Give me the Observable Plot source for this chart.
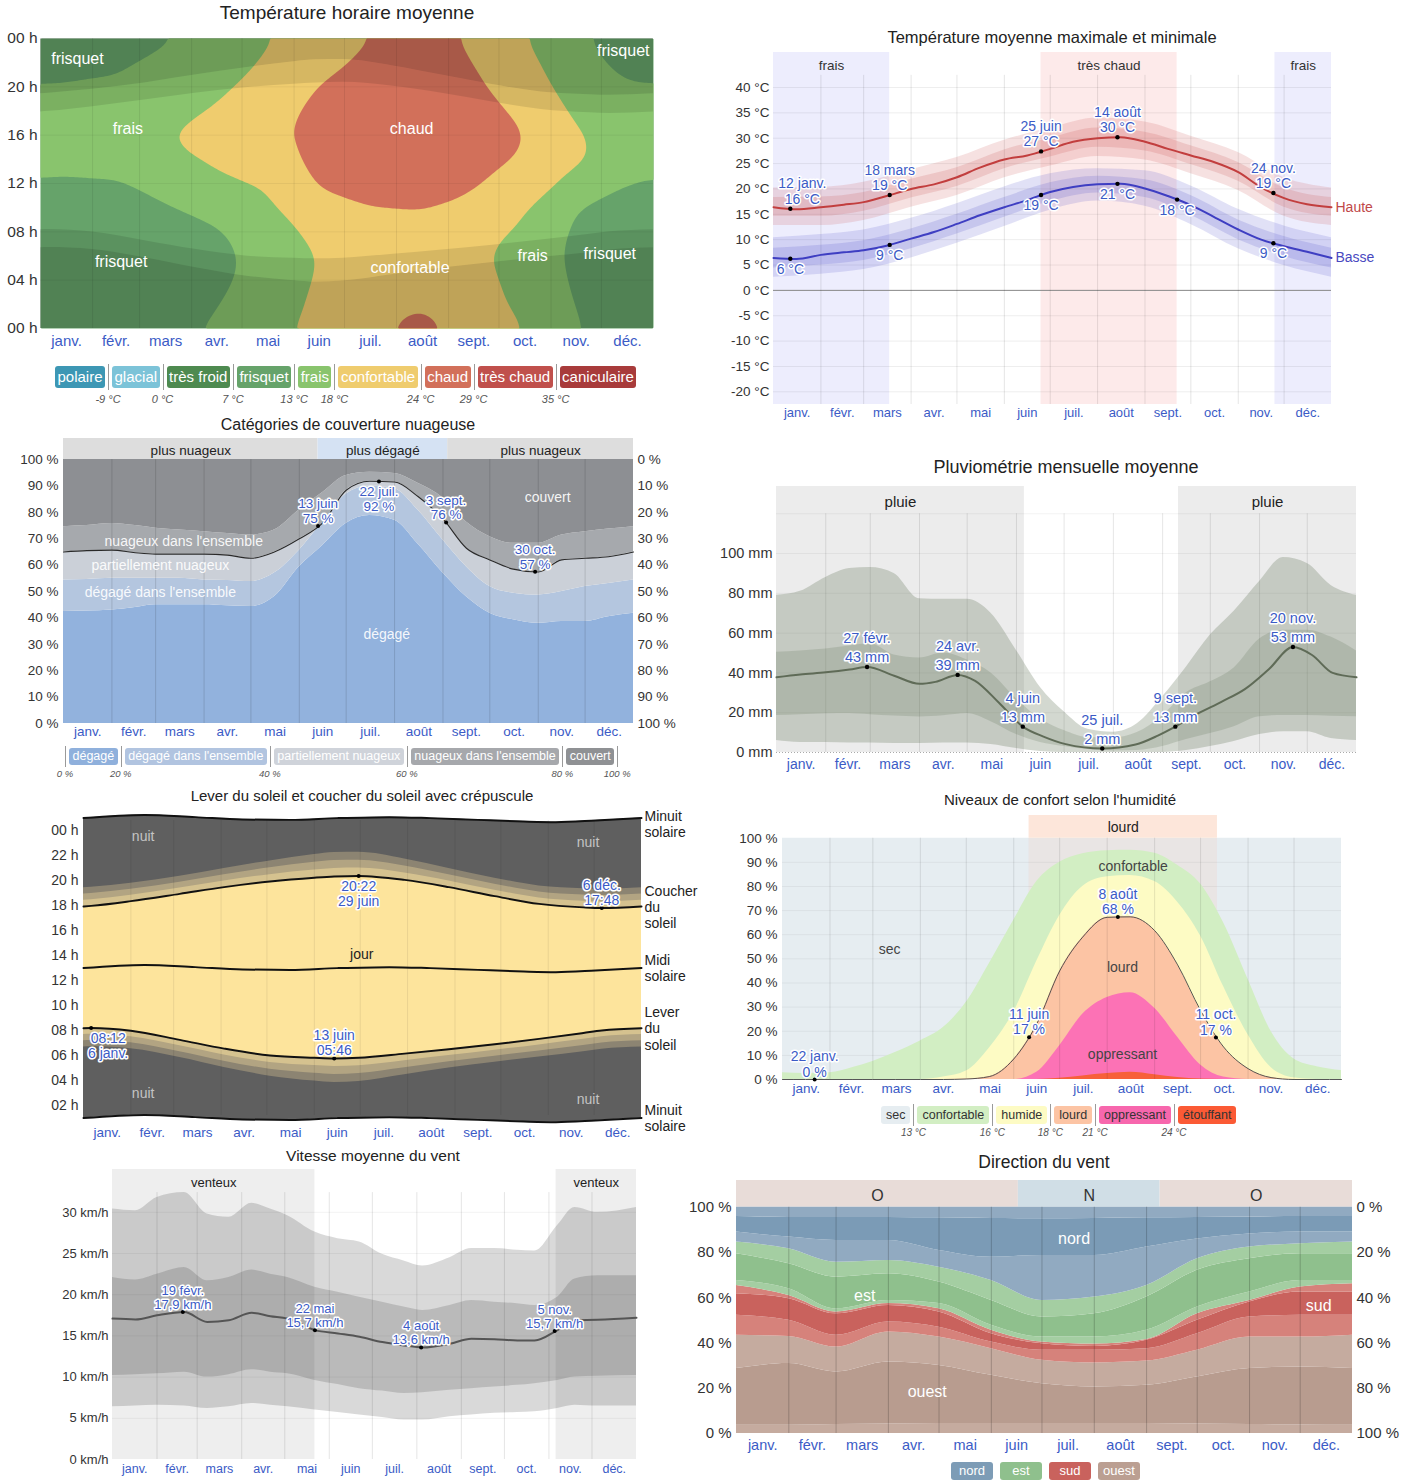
<!DOCTYPE html>
<html lang="fr">
<head>
<meta charset="utf-8">
<script src="https://cdn.jsdelivr.net/npm/d3@7"></script>
<script src="https://cdn.jsdelivr.net/npm/@observablehq/plot@0.6"></script>
<style>
html,body{margin:0;padding:0;background:#fff;}
#page{position:relative;width:1414px;height:1481px;overflow:hidden;background:#fff;}
.panel{position:absolute;}
.panel svg{display:block;overflow:visible;max-width:none;}
.title{position:absolute;width:700px;text-align:center;color:#222;white-space:nowrap;transform:translateY(-50%);line-height:1.1;}
.legend{position:absolute;display:flex;align-items:flex-start;white-space:nowrap;}
.legend .box{border-radius:3px;text-align:center;box-sizing:border-box;flex:none;}
.legend .sep{position:relative;width:1px;flex:none;background:#9a9a9a;}
.legend .sep span{position:absolute;left:0;transform:translateX(-50%);font-style:italic;color:#555;white-space:nowrap;}
</style>
</head>
<body>
<div id="page"></div>
<script>
// ====================== DATA ======================
const monthNames = ["janv.","févr.","mars","avr.","mai","juin","juil.","août","sept.","oct.","nov.","déc."];
const monthStarts = [0,31,59,90,120,151,181,212,243,273,304,334,365];
const midMonths = [15.5,45,74.5,105,135.5,166,196.5,227.5,258,288.5,319,349.5];
const dayGrid = [0,15,31,46,59,74,90,105,120,135,151,166,181,196,212,227,243,258,273,288,304,319,334,349,365];

// --- Température horaire moyenne ---
const tempCategories = ["polaire","glacial","très froid","frisquet","frais","confortable","chaud","très chaud","caniculaire"];
const tempColors = ["#3d97b4","#7cc3d8","#4e8a50","#66a36a","#89c46d","#efcc6e","#d2705a","#c0504c","#a83b3b"];
const tempCuts = [-9,0,7,13,18,24,29,35];
const tempCutLabels = ["-9 °C","0 °C","7 °C","13 °C","18 °C","24 °C","29 °C","35 °C"];
const hourGrid = [0,2,4,6,8,10,12,14,16,18,20,22,24];
const tempDays = [0,15,46,74,105,135,166,196,227,258,288,319,349,365];
const hourlyTemp = [
  [10.8, 9.8, 9.0, 8.5, 9.2,11.2,12.4,14.8,15.6,14.6,13.1,12.0,10.7],
  [10.5, 9.5, 8.5, 8.0, 9.0,11.0,12.3,14.5,15.5,14.5,13.2,12.0,10.5],
  [10.5, 9.5, 9.0, 8.5, 9.5,11.5,12.5,15.0,16.0,15.0,13.5,12.5,11.0],
  [12.2,11.0,10.5,10.0,11.5,12.6,14.5,17.0,17.8,16.5,15.0,13.8,12.6],
  [13.5,12.8,12.0,12.0,12.5,14.5,17.0,18.8,19.5,18.5,17.0,15.5,14.5],
  [16.5,15.5,15.0,14.5,15.5,17.0,18.5,20.5,22.0,21.5,20.0,18.6,17.5],
  [19.5,19.0,18.5,18.3,19.5,22.0,24.5,26.0,26.5,25.5,24.2,22.5,21.0],
  [22.5,21.5,20.5,20.0,21.5,23.8,26.5,28.0,28.5,27.5,26.0,25.0,24.0],
  [25.8,23.5,21.0,20.5,21.5,24.3,27.0,28.5,28.8,28.0,26.8,26.2,25.8],
  [21.0,20.0,19.5,19.0,20.0,22.5,24.5,26.0,26.5,25.8,25.0,24.0,23.2],
  [18.0,17.0,16.5,16.0,17.0,18.5,21.5,23.5,24.2,23.0,21.0,19.5,18.2],
  [13.3,12.8,12.3,12.0,12.3,13.0,16.0,18.8,18.5,17.0,15.5,14.5,13.8],
  [11.0,10.0, 9.5, 9.0, 9.5,11.5,13.0,15.5,16.0,15.0,13.3,12.0,11.0],
  [10.8, 9.8, 9.0, 8.5, 9.2,11.2,12.4,14.8,15.6,14.6,13.1,12.0,10.7]
];
const hourlyLabels = [
  {day:22, hour:22.3, text:"frisquet"}, {day:347, hour:23.0, text:"frisquet"},
  {day:52, hour:16.5, text:"frais"}, {day:221, hour:16.5, text:"chaud"},
  {day:48, hour:5.5, text:"frisquet"}, {day:220, hour:5.0, text:"confortable"},
  {day:293, hour:6.0, text:"frais"}, {day:339, hour:6.2, text:"frisquet"}
];

// --- Température moyenne maximale et minimale ---
const highTemp = [16.4,16.0,16.4,16.9,17.4,18.6,20.0,20.9,22.3,24.2,25.8,26.6,27.9,29.3,30.0,30.2,29.3,27.9,26.6,25.3,23.3,20.3,18.2,17.0,16.4];
const lowTemp  = [6.4,6.2,7.0,7.5,7.9,8.8,10.2,11.5,13.1,14.8,16.4,17.8,19.4,20.4,20.9,21.0,20.1,18.6,16.8,14.5,12.0,10.0,8.7,7.6,6.4];
const highP90 = [20.2,20.3,21.3,23.8,26.2,29.6,32.0,34.0,33.2,30.4,27.2,22.2,20.2];
const highP75 = [18.3,18.4,19.3,21.9,24.2,27.7,30.0,32.0,31.2,28.5,25.2,20.2,18.3];
const highP25 = [14.6,14.6,15.6,18.2,20.5,24.0,26.3,28.2,27.5,24.8,21.5,16.4,14.6];
const highP10 = [12.8,12.8,13.8,16.4,18.7,22.2,24.5,26.4,25.7,23.0,19.7,14.6,12.8];
const lowP90 = [10.4,11.0,11.9,14.2,17.1,20.4,23.0,24.0,23.6,20.6,16.0,12.7,10.4];
const lowP75 = [8.3,8.9,9.8,12.1,15.0,18.3,21.2,22.5,21.8,18.7,13.9,10.6,8.3];
const lowP25 = [4.4,5.0,5.9,8.2,11.1,14.4,17.5,19.2,18.3,14.8,10.0,6.7,4.4];
const lowP10 = [2.6,3.2,4.1,6.4,9.3,12.6,15.8,17.6,16.6,13.0,8.2,4.9,2.6];
const tempZones = [{label:"frais", start:0, end:76}, {label:"très chaud", start:175, end:264}, {label:"frais", start:328, end:365}];
const highMarks = [
  {day:11, value:16.1, date:"12 janv.", label:"16 °C"}, {day:76, value:18.8, date:"18 mars", label:"19 °C"},
  {day:175, value:27.4, date:"25 juin", label:"27 °C"}, {day:225, value:30.2, date:"14 août", label:"30 °C"},
  {day:327, value:19.2, date:"24 nov.", label:"19 °C"}];
const lowMarks = [
  {day:11, value:6.25, label:"6 °C"}, {day:76, value:8.97, label:"9 °C"}, {day:175, value:18.8, label:"19 °C"},
  {day:225, value:21.0, label:"21 °C"}, {day:264, value:17.9, label:"18 °C"}, {day:327, value:9.3, label:"9 °C"}];
const tempTicks = [-20,-15,-10,-5,0,5,10,15,20,25,30,35,40];

// --- Catégories de couverture nuageuse ---
const cloudCategories = ["dégagé","dégagé dans l'ensemble","partiellement nuageux","nuageux dans l'ensemble","couvert"];
const cloudColors = ["#92b2dd","#b4c6df","#cbd0d8","#a6a9ad","#8d8f93"];
const cloudLegendColors = ["#8fb0dc","#b1c4e0","#cfd3da","#a6a8ac","#8f9194"];
const cloudCutLabels = ["0 %","20 %","40 %","60 %","80 %","100 %"];
const cloudClear = [42.4,42.6,43,44,45,45,45,44.6,44.3,48,59.4,67.5,75.8,78.8,77,68,57,48,41.8,39.3,38,38.7,38.7,40.5,41.8];
const cloudMostlyClear = [54.4,54.6,55,55,55,55,54.4,54.2,53.8,57,65.7,76.5,87,90,89,80.9,69.5,59.4,51.9,49.4,48.7,50,51.9,53.1,54.4];
const cloudPartly = [65,65.5,65.7,64.7,64.2,64.2,64.2,63.8,62.6,65,70,76,88.4,91.8,91.5,86,77.5,66.4,62,58.5,57.4,62,62.6,63.2,65];
const cloudMostlyCloudy = [74.6,75,75.8,75,74,73.3,72.7,72,71.4,73.3,80.9,87.5,94,95.2,94.7,91,85.5,76.4,70.8,68.3,68.3,71.4,72.7,73.7,74.6];
const cloudZones = [{label:"plus nuageux", start:0, end:163}, {label:"plus dégagé", start:163, end:246}, {label:"plus nuageux", start:246, end:365}];
const cloudMarks = [
  {day:163, value:74.8, date:"13 juin", label:"75 %", pos:"above"},
  {day:202, value:91.7, date:"22 juil.", label:"92 %", pos:"below"},
  {day:245, value:76.2, date:"3 sept.", label:"76 %", pos:"above"},
  {day:302, value:57.5, date:"30 oct.", label:"57 %", pos:"above"}];
const cloudAreaLabels = [
  {day:310, value:85.6, text:"couvert"}, {day:77, value:68.9, text:"nuageux dans l'ensemble"},
  {day:62, value:59.8, text:"partiellement nuageux"}, {day:62, value:49.6, text:"dégagé dans l'ensemble"},
  {day:207, value:33.7, text:"dégagé"}];
const pctTicks = [0,10,20,30,40,50,60,70,80,90,100];

// --- Pluviométrie mensuelle moyenne ---
const rainDays = [0,15,31,46,57,74,90,100,114,125,140,155,168,182,205,226,240,251,265,280,295,310,325,337,350,365];
const rainMedian = [37.8,39.2,40.3,41.7,43,38.6,34.5,35.5,39,36,25,13,8,4.2,2,4,8.5,13,19.5,25.5,32,42,53,49,40,37.8];
const rainP10 = [6,5,5,4.8,4.8,4.5,4.5,4.8,4.8,4,2,0.5,0,0,0,0,0,1,3,5.5,9,10.4,10.4,7,6];
const rainP25 = [18.6,19,19.5,19.6,19,18.3,17.9,18.5,19.6,15.5,9,5,3,1.5,0.8,1,3,6.5,9.5,13,18,18.6,18.6,18.2,18];
const rainP75 = [50.4,51,52,53.5,54.6,49,47.5,50,46.5,40,27,16.8,11,7.5,7.3,10,18.5,30,35.5,42.5,57,61.5,61.5,58,51];
const rainP90 = [79,81,88,92.5,93,90,77.3,77,77,70,51.3,32.8,20.5,11.7,10.2,14.4,28,43,59,71,86,98,95,84,79];
const rainZones = [{label:"pluie", start:0, end:156}, {label:"pluie", start:253, end:365}];
const rainMarks = [
  {day:57, value:43, date:"27 févr.", label:"43 mm"}, {day:114, value:39, date:"24 avr.", label:"39 mm"},
  {day:155, value:13, date:"4 juin", label:"13 mm"}, {day:205, value:2, date:"25 juil.", label:"2 mm"},
  {day:251, value:13, date:"9 sept.", label:"13 mm"}, {day:325, value:53, date:"20 nov.", label:"53 mm"}];

// --- Lever / coucher du soleil ---
const sunDays = [0,5,31,63,92,122,151,164,180,210,239,269,298,327,339,365];
const sunrise = [8.18,8.2,7.98,7.25,6.55,6.0,5.82,5.77,5.82,6.15,6.5,6.9,7.33,7.8,8.0,8.18];
const sunset  = [17.92,17.97,18.35,18.93,19.47,19.92,20.22,20.32,20.37,20.05,19.47,18.75,18.13,17.85,17.8,17.92];
const twilightStep = [0.5,0.5,0.48,0.47,0.5,0.55,0.62,0.64,0.63,0.56,0.5,0.48,0.48,0.5,0.5,0.5];
const noonDays = [0,40,73,104,135,166,200,227,258,288,309,335,365];
const solarNoon = [13.0,13.25,13.07,12.88,12.85,12.99,13.07,12.99,12.85,12.72,12.67,12.8,13.0];
const sunMarks = [
  {day:5, value:8.2, date:"6 janv.", time:"08:12", pos:"below"},
  {day:164, value:5.77, date:"13 juin", time:"05:46", pos:"above"},
  {day:180, value:20.37, date:"29 juin", time:"20:22", pos:"below"},
  {day:339, value:17.8, date:"6 déc.", time:"17:48", pos:"above"}];
const sunAreaLabels = [
  {day:39, hour:23.5, text:"nuit", kind:"night"}, {day:330, hour:23.0, text:"nuit", kind:"night"},
  {day:39, hour:2.96, text:"nuit", kind:"night"}, {day:330, hour:2.5, text:"nuit", kind:"night"},
  {day:182, hour:14.1, text:"jour", kind:"day"}];
const hourTicksSun = [2,4,6,8,10,12,14,16,18,20,22,24];

// --- Niveaux de confort selon l'humidité ---
const humidCategories = ["sec","confortable","humide","lourd","oppressant","étouffant"];
const humidColors = ["#e6edf1","#d2eec3","#fdfbc4","#fcc4a4","#f767ad","#fb5a35"];
const humidCutLabels = ["13 °C","16 °C","18 °C","21 °C","24 °C"];
const humidComfortable = [2.8,2.5,2.8,5,7.5,11.3,16,21.5,32,48,66,82,90,93.5,94.8,95,93.8,88.8,81,65,41.5,20,8.5,5.3,3.7];
const humidHumid = [0,0,0,0,0,0,0,1,3.5,13,28,49,68,80,84,84.5,82,73.5,59.5,38.5,18.5,5,0.7,0,0];
const humidHeavy = [0,0,0,0,0,0,0,0,0.2,1.2,8.5,23,45,59,67.2,67.4,61.7,47.5,28.6,13.5,4.5,0.8,0,0,0];
const humidOppressive = [0,0,0,0,0,0,0,0,0,0,0,3,14,27,34,36,29.5,17.5,6,1,0,0,0,0,0];
const humidMiserable = [0,0,0,0,0,0,0,0,0,0,0,0,0.5,1.5,2.5,3,2,0.8,0.2,0,0,0,0,0,0];
const humidZones = [{label:"lourd", start:161, end:284}];
const humidMarks = [
  {day:21, value:0, date:"22 janv.", label:"0 %"}, {day:161, value:17.5, date:"11 juin", label:"17 %"},
  {day:219, value:67.3, date:"8 août", label:"68 %"}, {day:283, value:17.4, date:"11 oct.", label:"17 %"}];
const humidAreaLabels = [
  {day:70, value:53.9, text:"sec"}, {day:229, value:88.3, text:"confortable"},
  {day:222, value:46.4, text:"lourd"}, {day:222, value:10.4, text:"oppressant"}];

// --- Vitesse moyenne du vent ---
const windDays = [0,16,31,50,66,81,97,110,122,141,157,172,188,203,216,235,250,266,282,294,310,322,338,365];
const windMean = [17.1,17.0,17.5,17.9,16.7,16.9,17.8,17.4,17.1,15.7,15.3,14.9,14.25,13.85,13.6,14.05,14.65,14.6,14.45,14.45,15.7,16.9,16.95,17.2];
const windP90 = [30.4,30.2,31.8,32.4,29.8,29.4,31.1,30.4,29.6,27.6,26.8,26.4,24.9,24.1,23.5,24.5,25.6,25.6,25.4,25.3,28.4,30.6,30.0,30.6];
const windP75 = [22.1,21.8,22.5,23.3,21.7,22.1,23.0,22.5,22.1,20.9,20.3,19.7,19.1,18.5,18.1,18.7,19.3,19.1,18.9,18.7,19.7,21.9,22.3,22.3];
const windP25 = [10.2,10.3,10.4,10.6,10.0,10.3,10.9,10.6,10.4,9.6,9.1,8.6,8.3,8.0,8.1,8.4,8.6,8.8,9.0,9.2,9.6,10.0,10.1,10.2];
const windP10 = [6.4,6.5,6.6,6.5,6.2,6.4,6.8,6.6,6.4,6.0,5.7,5.4,5.1,4.8,4.8,5.2,5.4,5.6,5.7,5.8,6.2,6.6,6.5,6.5];
const windZones = [{label:"venteux", start:0, end:141}, {label:"venteux", start:309, end:365}];
const windMarks = [
  {day:49, value:17.9, date:"19 févr.", label:"17,9 km/h"}, {day:141, value:15.7, date:"22 mai", label:"15,7 km/h"},
  {day:215, value:13.6, date:"4 août", label:"13,6 km/h"}, {day:308, value:15.6, date:"5 nov.", label:"15,7 km/h"}];
const windTicks = [0,5,10,15,20,25,30];

// --- Direction du vent ---
const dirCategories = ["nord","est","sud","ouest"];
const dirLegendColors = ["#7d9cb6","#8fc08d","#c9625d","#bb9f92"];
const dirDays = [0,31,59,90,120,151,181,212,243,273,304,334,365];
const dirB1  = [3.7,3.7,4,4.2,4.4,4.4,4.4,4.4,4.4,4.2,4,3.8,3.7];
const dirB2  = [28.7,30.9,27.2,31.6,30.1,25.7,22,20.6,21.3,25,28.7,29.4,28.7];
const dirB3  = [43.4,42.9,38.2,44.9,42.6,37.5,32.4,31.2,32,36.8,42.6,42.6,43.4];
const dirB4  = [52.2,50,43.4,49.3,47,40.4,36.8,36.8,37.5,44.1,51.5,52.2,52.2];
const dirB5  = [61.8,59.6,52.9,56.6,53.7,44.1,39.7,38.5,41.2,50,58.1,62.5,62.5];
const dirB6  = [65.4,61,53.7,57.4,55.1,45.6,40.4,39.5,41.5,52.9,58.8,64.7,66.2];
const dirB7  = [67.6,64,55.1,58.8,57.4,47.8,42.6,42.6,45.6,55.9,62.5,67.6,67.6];
const dirB8  = [79.4,75,69.1,70.6,66.9,58.8,51.5,52.9,60.3,72.1,77.2,79.4,79.4];
const dirB9  = [84.6,81.6,75.7,76.5,73.5,67.6,58.8,60.3,65.4,77.2,82.4,83.8,84.6];
const dirB10 = [89,86.8,85.3,85.3,80.9,77.9,78.7,78.7,82.4,86,88.2,89,89];
const dirB11 = [95.9,95.5,95.5,95.5,95.3,95,94.9,95,95.3,95.5,95.7,95.9,95.9];
const dirZones = [{label:"O", start:0, end:167}, {label:"N", start:167, end:251}, {label:"O", start:251, end:365}];
const dirAreaLabels = [
  {day:200, value:86.1, text:"nord"}, {day:76, value:61, text:"est"},
  {day:345, value:56.2, text:"sud"}, {day:113, value:18.2, text:"ouest"}];

// ====================== RENDER ======================
function hasFont(name) {
  const ctx = document.createElement("canvas").getContext("2d");
  const s = "abcdefghijklmnopqrstuvwxyz0123456789";
  ctx.font = "40px monospace"; const a = ctx.measureText(s).width;
  ctx.font = `40px "${name}", monospace`; const b = ctx.measureText(s).width;
  return Math.abs(a - b) > 1;
}
const NARROW = hasFont("Liberation Sans Narrow");
const FONT = NARROW ? '"Liberation Sans Narrow", "Liberation Sans", sans-serif' : '"Liberation Sans", Arial, sans-serif';
const K = NARROW ? 1.18 : 1;
const fs = n => Math.round(n * K * 10) / 10;
const BLUE = "#3b5bc6";
const curve = "monotone-x";
const page = document.getElementById("page");
page.style.fontFamily = FONT;

function base(o) {
  return Object.assign({style: {fontFamily: FONT, fontSize: "12px", background: "transparent", overflow: "visible", color: "#333"}}, o);
}
function place(node, left, top) {
  const d = document.createElement("div"); d.className = "panel";
  d.style.left = left + "px"; d.style.top = top + "px"; d.appendChild(node); page.appendChild(d);
}
function title(text, cx, cy, size) {
  const t = document.createElement("div"); t.className = "title"; t.textContent = text;
  t.style.left = (cx - 350) + "px"; t.style.top = cy + "px"; t.style.fontSize = fs(size) + "px";
  page.appendChild(t);
}
function monthAxis(size, pad) {
  return Plot.axisX(midMonths, {anchor: "bottom", tickSize: 0, tickPadding: pad, fontSize: fs(size), color: BLUE, label: null,
    tickFormat: d => monthNames[midMonths.indexOf(d)]});
}
function valueAxis(ticks, fmt, size, pad, anchor = "left") {
  return Plot.axisY(ticks, {anchor, tickSize: 0, tickPadding: pad, fontSize: fs(size), color: "#333", label: null, tickFormat: fmt});
}
function note(data, o) {
  return Plot.text(data, Object.assign({fill: BLUE, stroke: "white", strokeWidth: 3, paintOrder: "stroke", fontSize: fs(13), lineHeight: 1.1}, o));
}
const hourFmt = h => String(h % 24).padStart(2, "0") + " h";
const mid = d => (d.start + d.end) / 2;

function legend(left, top, items, cuts, o) {
  const w = document.createElement("div"); w.className = "legend";
  w.style.left = left + "px"; w.style.top = top + "px";
  const addSep = label => {
    const s = document.createElement("div"); s.className = "sep";
    s.style.height = (o.h + 4) + "px"; s.style.margin = `-2px ${o.gap}px 0`;
    if (label) {
      const t = document.createElement("span"); t.textContent = label;
      t.style.top = (o.h + 2 + o.lo) + "px"; t.style.fontSize = fs(o.lfs) + "px"; s.appendChild(t);
    }
    w.appendChild(s);
  };
  items.forEach((it, i) => {
    const hasSep = cuts && cuts[i] !== undefined;
    if (hasSep) addSep(cuts[i]);
    const b = document.createElement("div"); b.className = "box"; b.textContent = it.label;
    b.style.background = it.color; b.style.color = it.text; b.style.height = o.h + "px"; b.style.lineHeight = o.h + "px";
    b.style.fontSize = fs(o.fs) + "px"; b.style.padding = `0 ${o.pad}px`;
    if (o.minW) b.style.minWidth = o.minW + "px";
    if (!hasSep && i > 0) b.style.marginLeft = (2 * o.gap + 1) + "px";
    w.appendChild(b);
  });
  if (cuts && cuts[items.length] !== undefined) addSep(cuts[items.length]);
  page.appendChild(w);
}

// ---------- Panel 1 : Température horaire moyenne ----------
const tempPoints = tempDays.flatMap((day, i) => hourGrid.map((hour, j) => ({day, hour, t: hourlyTemp[i][j]})));
const sunRows = sunDays.map((day, i) => ({day, rise: sunrise[i], set: sunset[i], step: twilightStep[i]}));
title("Température horaire moyenne", 347, 13, 19);
place(Plot.plot(base({
  width: 660, height: 327, marginLeft: 40, marginRight: 7, marginTop: 10, marginBottom: 27,
  x: {domain: [0, 365], axis: null}, y: {domain: [0, 24], axis: null},
  color: {type: "threshold", domain: tempCuts, range: tempColors},
  marks: [
    Plot.contour(tempPoints, {x: "day", y: "hour", fill: "t", interpolate: "barycentric", thresholds: tempCuts.slice(2, 7), pixelSize: 2, blur: 4}),
    Plot.areaY(sunRows, {x: "day", y1: "set", y2: d => d.set + 3 * d.step, fill: "#000", fillOpacity: 0.1, curve}),
    Plot.areaY(sunRows, {x: "day", y1: d => d.set + 3 * d.step, y2: 24, fill: "#000", fillOpacity: 0.2, curve}),
    Plot.areaY(sunRows, {x: "day", y1: d => d.rise - 3 * d.step, y2: "rise", fill: "#000", fillOpacity: 0.1, curve}),
    Plot.areaY(sunRows, {x: "day", y1: 0, y2: d => d.rise - 3 * d.step, fill: "#000", fillOpacity: 0.2, curve}),
    Plot.ruleX(monthStarts.slice(1, -1), {stroke: "#000", strokeOpacity: 0.08}),
    Plot.ruleY([4, 8, 12, 16, 20], {stroke: "#000", strokeOpacity: 0.05}),
    Plot.text(hourlyLabels, {x: "day", y: "hour", text: "text", fill: "white", fontSize: fs(16)}),
    valueAxis([0, 4, 8, 12, 16, 20, 24], hourFmt, 15.5, 3),
    monthAxis(15, 7)
  ]
})), 0, 28);
legend(55, 366, tempCategories.map((c, i) => ({label: c, color: tempColors[i], text: "#fff"})),
  [undefined, ...tempCutLabels, undefined], {h: 22, fs: 15, pad: 2.5, gap: 3, lfs: 11, lo: 5});

// ---------- Panel 2 : Température max / min ----------
const tempRows = dayGrid.map((day, i) => ({day, hi: highTemp[i], lo: lowTemp[i]}));
const tempBandRows = monthStarts.map((day, i) => ({day, h10: highP10[i], h25: highP25[i], h75: highP75[i], h90: highP90[i],
  l10: lowP10[i], l25: lowP25[i], l75: lowP75[i], l90: lowP90[i]}));
const tempZoneFill = {"frais": "#ededfd", "très chaud": "#fdeaea"};
const tempSeriesEnds = [{name: "Haute", day: 365, value: highTemp[highTemp.length - 1], color: "#c04848"},
  {name: "Basse", day: 365, value: lowTemp[lowTemp.length - 1], color: "#4848c0"}];
title("Température moyenne maximale et minimale", 1052, 37, 16.5);
place(Plot.plot(base({
  width: 714, height: 383, marginLeft: 73, marginRight: 83, marginTop: 7, marginBottom: 24,
  x: {domain: [0, 365], axis: null}, y: {domain: [-22.5, 46.9], axis: null}, color: {type: "identity"},
  marks: [
    Plot.rect(tempZones, {x1: "start", x2: "end", y1: -22.5, y2: 46.9, fill: d => tempZoneFill[d.label]}),
    Plot.ruleY(tempTicks, {stroke: "#000", strokeOpacity: 0.07}),
    Plot.ruleY([0], {stroke: "#8a8a8a"}),
    Plot.ruleX(monthStarts.slice(1, -1), {y1: -22.5, y2: 42.4, stroke: "#000", strokeOpacity: 0.1}),
    Plot.areaY(tempBandRows, {x: "day", y1: "h10", y2: "h90", fill: "#c8504f", fillOpacity: 0.17, curve}),
    Plot.areaY(tempBandRows, {x: "day", y1: "h25", y2: "h75", fill: "#c8504f", fillOpacity: 0.18, curve}),
    Plot.areaY(tempBandRows, {x: "day", y1: "l10", y2: "l90", fill: "#5050c8", fillOpacity: 0.17, curve}),
    Plot.areaY(tempBandRows, {x: "day", y1: "l25", y2: "l75", fill: "#5050c8", fillOpacity: 0.18, curve}),
    Plot.line(tempRows, {x: "day", y: "hi", stroke: "#c23e3e", strokeWidth: 2, curve}),
    Plot.line(tempRows, {x: "day", y: "lo", stroke: "#3e3ec2", strokeWidth: 2, curve}),
    Plot.dot(highMarks, {x: "day", y: "value", r: 2.2, fill: "#000"}),
    Plot.dot(lowMarks, {x: "day", y: "value", r: 2.2, fill: "#000"}),
    note(highMarks.slice(0, 1), {x: "day", y: "value", text: d => d.date + "\n" + d.label, lineAnchor: "bottom", dy: -5, dx: 12, fontSize: fs(14)}),
    note(highMarks.slice(1), {x: "day", y: "value", text: d => d.date + "\n" + d.label, lineAnchor: "bottom", dy: -5, fontSize: fs(14)}),
    note(lowMarks, {x: "day", y: "value", text: "label", lineAnchor: "top", dy: 4, fontSize: fs(14)}),
    Plot.text(tempZones, {x: mid, y: 44.4, text: "label", fill: "#333", fontSize: fs(13.5)}),
    Plot.text(tempSeriesEnds, {x: "day", y: "value", text: "name", fill: "color", textAnchor: "start", dx: 4, fontSize: fs(14)}),
    valueAxis(tempTicks, v => `${v} °C`, 13.5, 4),
    monthAxis(13, 3.5)
  ]
})), 700, 45);

// ---------- Panel 3 : Couverture nuageuse ----------
const cloudRows = dayGrid.map((day, i) => ({day, b: [0, cloudClear[i], cloudMostlyClear[i], cloudPartly[i], cloudMostlyCloudy[i], 100]}));
const cloudZoneFill = {"plus nuageux": "#dddddd", "plus dégagé": "#d5e2f3"};
title("Catégories de couverture nuageuse", 348, 425, 16);
place(Plot.plot(base({
  width: 700, height: 312, marginLeft: 63, marginRight: 67, marginTop: 6, marginBottom: 21,
  x: {domain: [0, 365], axis: null}, y: {domain: [0, 108], axis: null}, color: {type: "identity"},
  marks: [
    Plot.rect(cloudZones, {x1: "start", x2: "end", y1: 100, y2: 108, fill: d => cloudZoneFill[d.label]}),
    ...cloudColors.map((c, k) => Plot.areaY(cloudRows, {x: "day", y1: d => d.b[k], y2: d => d.b[k + 1], fill: c, curve})),
    Plot.ruleX(monthStarts.slice(1, -1), {y1: 0, y2: 100, stroke: "#000", strokeOpacity: 0.13}),
    Plot.line(cloudRows, {x: "day", y: d => d.b[3], stroke: "#2a2a2a", strokeWidth: 1.1, curve}),
    Plot.dot(cloudMarks, {x: "day", y: "value", r: 2, fill: "#000"}),
    note(cloudMarks.filter(d => d.pos === "above"), {x: "day", y: "value", text: d => d.date + "\n" + d.label, lineAnchor: "bottom", dy: -3, fontSize: fs(13.5)}),
    note(cloudMarks.filter(d => d.pos === "below"), {x: "day", y: "value", text: d => d.date + "\n" + d.label, lineAnchor: "top", dy: 4, fontSize: fs(13.5)}),
    Plot.text(cloudZones, {x: mid, y: 103.4, text: "label", fill: "#222", fontSize: fs(13.5)}),
    Plot.text(cloudAreaLabels, {x: "day", y: "value", text: "text", fill: "#fff", fillOpacity: 0.92, fontSize: fs(14)}),
    valueAxis(pctTicks, v => `${v} %`, 13.5, 5),
    valueAxis(pctTicks, v => `${100 - v} %`, 13.5, 4, "right"),
    monthAxis(13.5, 3)
  ]
})), 0, 432);
legend(62, 748, cloudCategories.map((c, i) => ({label: c, color: cloudLegendColors[i], text: "#fff"})),
  cloudCutLabels, {h: 17, fs: 12.5, pad: 3.5, gap: 3, lfs: 9.5, lo: 3});

// ---------- Panel 4 : Pluviométrie ----------
const rainRows = rainDays.map((day, i) => ({day, v: rainMedian[i]}));
const rainBandRows = dayGrid.map((day, i) => ({day, p10: rainP10[i], p25: rainP25[i], p75: rainP75[i], p90: rainP90[i]}));
title("Pluviométrie mensuelle moyenne", 1066, 468, 18);
place(Plot.plot(base({
  width: 714, height: 298, marginLeft: 76, marginRight: 58, marginTop: 6, marginBottom: 26,
  x: {domain: [0, 365], axis: null}, y: {domain: [0, 133.7], axis: null},
  marks: [
    Plot.rect(rainZones, {x1: "start", x2: "end", y1: 0, y2: 133.7, fill: "#ececec"}),
    Plot.ruleY([20, 40, 60, 80, 100, 120], {stroke: "#000", strokeOpacity: 0.05}),
    Plot.ruleX(monthStarts.slice(1, -1), {y1: 0, y2: 120, stroke: "#000", strokeOpacity: 0.1}),
    Plot.areaY(rainBandRows, {x: "day", y1: "p10", y2: "p90", fill: "#5c6e52", fillOpacity: 0.27, curve}),
    Plot.areaY(rainBandRows, {x: "day", y1: "p25", y2: "p75", fill: "#5c6e52", fillOpacity: 0.2, curve}),
    Plot.ruleY([0], {stroke: "#aaa", strokeDasharray: "1,2"}),
    Plot.line(rainRows, {x: "day", y: "v", stroke: "#5f6b57", strokeWidth: 2, curve}),
    Plot.dot(rainMarks, {x: "day", y: "value", r: 2.2, fill: "#000"}),
    note(rainMarks, {x: "day", y: "value", text: d => d.date + "\n" + d.label, lineAnchor: "bottom", dy: -5, fontSize: fs(14.5), lineHeight: 1.3}),
    Plot.text(rainZones, {x: mid, y: 125.6, text: "label", fill: "#222", fontSize: fs(15)}),
    valueAxis([0, 20, 40, 60, 80, 100], v => `${v} mm`, 14.5, 4),
    monthAxis(14, 7)
  ]
})), 700, 480);

// ---------- Panel 5 : Lever / coucher du soleil ----------
const noonRows = noonDays.map((day, i) => ({day, noon: solarNoon[i]}));
const sunEndLabels = [
  {text: "Minuit\nsolaire", day: 365, value: solarNoon[solarNoon.length - 1] + 12, top: true},
  {text: "Coucher\ndu\nsoleil", day: 365, value: sunset[sunset.length - 1]},
  {text: "Midi\nsolaire", day: 365, value: solarNoon[solarNoon.length - 1]},
  {text: "Lever\ndu\nsoleil", day: 365, value: sunrise[sunrise.length - 1]},
  {text: "Minuit\nsolaire", day: 365, value: solarNoon[solarNoon.length - 1] - 12}];
const sunLine = {stroke: "#111", strokeWidth: 2, curve};
title("Lever du soleil et coucher du soleil avec crépuscule", 362, 796, 15);
place(Plot.plot(base({
  width: 700, height: 342, marginLeft: 83, marginRight: 59, marginTop: 5, marginBottom: 22,
  x: {domain: [0, 365], axis: null}, y: {domain: [0.4, 25.6], axis: null}, color: {type: "identity"},
  marks: [
    Plot.areaY(noonRows, {x: "day", y1: d => d.noon - 12, y2: d => d.noon + 12, fill: "#5f5f5f", curve}),
    Plot.areaY(sunRows, {x: "day", y1: d => d.rise - 3 * d.step, y2: d => d.set + 3 * d.step, fill: "#8c8472", curve}),
    Plot.areaY(sunRows, {x: "day", y1: d => d.rise - 2 * d.step, y2: d => d.set + 2 * d.step, fill: "#b2a482", curve}),
    Plot.areaY(sunRows, {x: "day", y1: d => d.rise - d.step, y2: d => d.set + d.step, fill: "#d5c28f", curve}),
    Plot.areaY(sunRows, {x: "day", y1: "rise", y2: "set", fill: "#fde49c", curve}),
    Plot.ruleX(monthStarts.slice(1, -1), {y1: 1.2, y2: 24.8, stroke: "#000", strokeOpacity: 0.08}),
    Plot.line(noonRows, {x: "day", y: d => d.noon + 12, ...sunLine}),
    Plot.line(noonRows, {x: "day", y: "noon", ...sunLine}),
    Plot.line(noonRows, {x: "day", y: d => d.noon - 12, ...sunLine}),
    Plot.line(sunRows, {x: "day", y: "rise", ...sunLine}),
    Plot.line(sunRows, {x: "day", y: "set", ...sunLine}),
    Plot.dot(sunMarks, {x: "day", y: "value", r: 2, fill: "#000"}),
    note(sunMarks.filter(d => d.pos === "below" && d.day < 30), {x: "day", y: "value", text: d => d.time + "\n" + d.date, lineAnchor: "top", dy: 4, dx: 17, fontSize: fs(14)}),
    note(sunMarks.filter(d => d.pos === "below" && d.day >= 30), {x: "day", y: "value", text: d => d.time + "\n" + d.date, lineAnchor: "top", dy: 4, fontSize: fs(14)}),
    note(sunMarks.filter(d => d.pos === "above"), {x: "day", y: "value", text: d => d.date + "\n" + d.time, lineAnchor: "bottom", dy: -3, fontSize: fs(14)}),
    Plot.text(sunAreaLabels, {x: "day", y: "hour", text: "text", fill: d => d.kind === "night" ? "#c4c4c4" : "#222", fontSize: fs(14)}),
    Plot.text(sunEndLabels.filter(d => d.top), {x: "day", y: "value", text: "text", textAnchor: "start", dx: 3, dy: 6, fill: "#222", fontSize: fs(14), lineHeight: 1.15}),
    Plot.text(sunEndLabels.filter(d => !d.top), {x: "day", y: "value", text: "text", textAnchor: "start", dx: 3, fill: "#222", fontSize: fs(14), lineHeight: 1.15}),
    valueAxis(hourTicksSun, hourFmt, 14, 5),
    monthAxis(13.5, 2)
  ]
})), 0, 805);

// ---------- Panel 6 : Confort / humidité ----------
const humidRows = dayGrid.map((day, i) => ({day, c: humidComfortable[i], h: humidHumid[i], l: humidHeavy[i], o: humidOppressive[i], e: humidMiserable[i]}));
title("Niveaux de confort selon l'humidité", 1060, 800, 15);
place(Plot.plot(base({
  width: 714, height: 292, marginLeft: 82, marginRight: 73, marginTop: 5, marginBottom: 23,
  x: {domain: [0, 365], axis: null}, y: {domain: [0, 109.4], axis: null},
  marks: [
    Plot.areaY(humidRows, {x: "day", y1: 0, y2: 100, fill: humidColors[0]}),
    Plot.rect(humidZones, {x1: "start", x2: "end", y1: 100, y2: 109.4, fill: "#fde6da"}),
    Plot.rect(humidZones, {x1: "start", x2: "end", y1: 0, y2: 100, fill: "#f7c9b4", fillOpacity: 0.22}),
    Plot.ruleY([10, 20, 30, 40, 50, 60, 70, 80, 90], {stroke: "#000", strokeOpacity: 0.05}),
    Plot.areaY(humidRows, {x: "day", y1: 0, y2: "c", fill: humidColors[1], curve}),
    Plot.areaY(humidRows, {x: "day", y1: 0, y2: "h", fill: humidColors[2], curve}),
    Plot.areaY(humidRows, {x: "day", y1: 0, y2: "l", fill: humidColors[3], curve}),
    Plot.areaY(humidRows, {x: "day", y1: 0, y2: "o", fill: "#fc72b5", curve}),
    Plot.areaY(humidRows, {x: "day", y1: 0, y2: "e", fill: "#f7603a", curve}),
    Plot.ruleX(monthStarts.slice(1, -1), {y1: 0, y2: 100, stroke: "#000", strokeOpacity: 0.1}),
    Plot.line(humidRows, {x: "day", y: "l", stroke: "#444", strokeWidth: 0.9, curve}),
    Plot.dot(humidMarks, {x: "day", y: "value", r: 2, fill: "#000"}),
    note(humidMarks, {x: "day", y: "value", text: d => d.date + "\n" + d.label, lineAnchor: "bottom", dy: -3, fontSize: fs(14)}),
    Plot.text(humidAreaLabels, {x: "day", y: "value", text: "text", fill: "#444", fontSize: fs(14)}),
    Plot.text(humidZones, {x: mid, y: 104.4, text: "label", fill: "#222", fontSize: fs(14)}),
    valueAxis(pctTicks, v => `${v} %`, 13.5, 5),
    monthAxis(13.5, 4)
  ]
})), 700, 810);
legend(881, 1106, humidCategories.map((c, i) => ({label: c, color: humidColors[i], text: "#333"})),
  [undefined, ...humidCutLabels, undefined], {h: 18, fs: 12.5, pad: 5, gap: 3, lfs: 10, lo: 3});

// ---------- Panel 7 : Vitesse du vent ----------
const windRows = windDays.map((day, i) => ({day, m: windMean[i], p10: windP10[i], p25: windP25[i], p75: windP75[i], p90: windP90[i]}));
title("Vitesse moyenne du vent", 373, 1156, 15.5);
place(Plot.plot(base({
  width: 700, height: 316, marginLeft: 112, marginRight: 64, marginTop: 4, marginBottom: 22,
  x: {domain: [0, 365], axis: null}, y: {domain: [0, 35.2], axis: null},
  marks: [
    Plot.rect(windZones, {x1: "start", x2: "end", y1: 0, y2: 35.2, fill: "#eeeeee"}),
    Plot.ruleY(windTicks.slice(1), {stroke: "#000", strokeOpacity: 0.05}),
    Plot.ruleX(monthStarts.slice(1, -1), {y1: 0, y2: 32.4, stroke: "#000", strokeOpacity: 0.1}),
    Plot.areaY(windRows, {x: "day", y1: "p10", y2: "p90", fill: "#000", fillOpacity: 0.15, curve}),
    Plot.areaY(windRows, {x: "day", y1: "p25", y2: "p75", fill: "#000", fillOpacity: 0.14, curve}),
    Plot.line(windRows, {x: "day", y: "m", stroke: "#555", strokeWidth: 2, curve}),
    Plot.dot(windMarks, {x: "day", y: "value", r: 2, fill: "#000"}),
    note(windMarks, {x: "day", y: "value", text: d => d.date + "\n" + d.label, lineAnchor: "bottom", dy: -3, fontSize: fs(13)}),
    Plot.text(windZones, {x: mid, y: 33.6, text: "label", fill: "#222", fontSize: fs(13)}),
    valueAxis(windTicks, v => `${v} km/h`, 13, 4),
    monthAxis(12.5, 5)
  ]
})), 0, 1165);

// ---------- Panel 8 : Direction du vent ----------
const dirRows = dirDays.map((day, i) => ({day, b: [0, dirB1[i], dirB2[i], dirB3[i], dirB4[i], dirB5[i], dirB6[i], dirB7[i], dirB8[i], dirB9[i], dirB10[i], dirB11[i], 100]}));
const dirLayerColors = ["#c5ab9f","#b89c8f","#c5ab9f","#d6827b","#c9625d","#d6827b","#a4cea2","#8fc08d","#a4cea2","#91aac1","#7b9bb6","#91aac1"];
const dirZoneFill = {"O": "#e8dcd8", "N": "#d0dee6"};
title("Direction du vent", 1044, 1163, 17.5);
place(Plot.plot(base({
  width: 734, height: 280, marginLeft: 56, marginRight: 62, marginTop: 5, marginBottom: 22,
  x: {domain: [0, 365], axis: null}, y: {domain: [0, 111.8], axis: null}, color: {type: "identity"},
  marks: [
    Plot.rect(dirZones, {x1: "start", x2: "end", y1: 100, y2: 111.8, fill: d => dirZoneFill[d.label]}),
    ...dirLayerColors.map((c, k) => Plot.areaY(dirRows, {x: "day", y1: d => d.b[k], y2: d => d.b[k + 1], fill: c, curve})),
    Plot.ruleX(monthStarts.slice(1, -1), {y1: 0, y2: 100, stroke: "#000", strokeOpacity: 0.2}),
    Plot.text(dirZones, {x: mid, y: 105.2, text: "label", fill: "#333", fontSize: fs(16)}),
    Plot.text(dirAreaLabels, {x: "day", y: "value", text: "text", fill: "#fff", fontSize: fs(16)}),
    valueAxis([0, 20, 40, 60, 80, 100], v => `${v} %`, 15, 5),
    valueAxis([0, 20, 40, 60, 80, 100], v => `${100 - v} %`, 15, 4, "right"),
    monthAxis(14.5, 6)
  ]
})), 680, 1175);
legend(951, 1462, dirCategories.map((c, i) => ({label: c, color: dirLegendColors[i], text: "#fff"})),
  null, {h: 18, fs: 13, pad: 4, gap: 3, minW: 42});
</script>
</body>
</html>
